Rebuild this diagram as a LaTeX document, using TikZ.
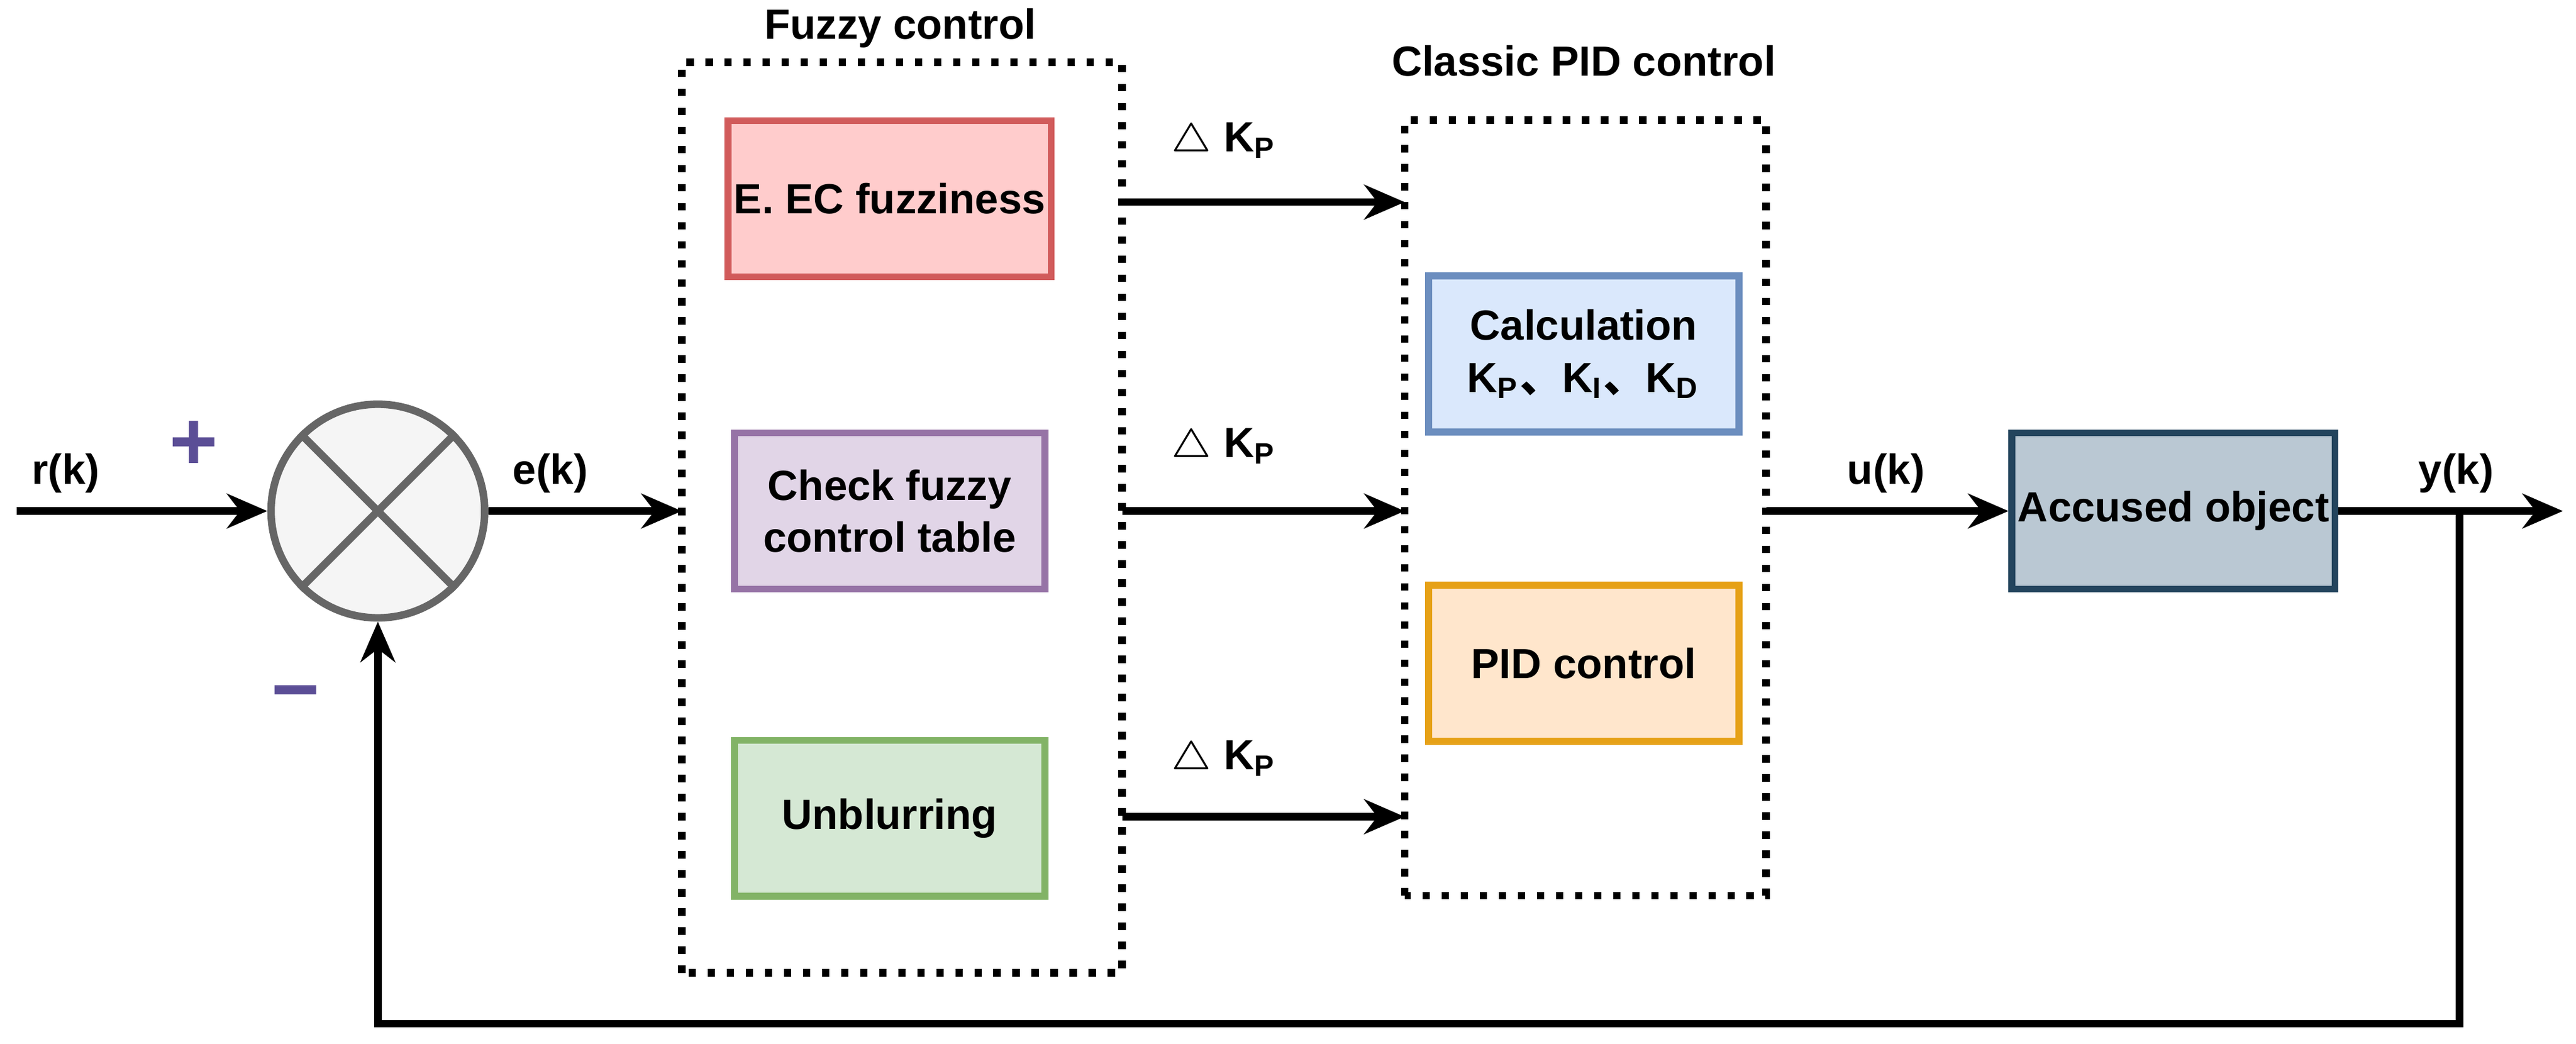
\documentclass[tikz,border=0pt]{standalone}
\usepackage{fontspec}
\setmainfont{Liberation Sans}
\newfontfamily\cjk{Noto Sans CJK SC}
\usetikzlibrary{arrows.meta}
\definecolor{redfill}{HTML}{FFCCCC}
\definecolor{reddraw}{HTML}{D15B5B}
\definecolor{purfill}{HTML}{E1D5E7}
\definecolor{purdraw}{HTML}{9673A6}
\definecolor{grnfill}{HTML}{D5E8D4}
\definecolor{grndraw}{HTML}{82B366}
\definecolor{blufill}{HTML}{DAE8FC}
\definecolor{bludraw}{HTML}{6C8EBF}
\definecolor{orgfill}{HTML}{FFE6CC}
\definecolor{orgdraw}{HTML}{E6A117}
\definecolor{objfill}{HTML}{BAC8D3}
\definecolor{objdraw}{HTML}{23445D}
\definecolor{signcol}{HTML}{5B4E96}
\newcommand{\dunhao}{{\cjk 、}}
\tikzset{
  lbl/.style={font=\fontsize{7.3}{9}\selectfont\bfseries, align=center},
  blk/.style={lbl, draw, line width=1.2pt, inner sep=1pt, minimum width=1.89cm, minimum height=0.95cm},
  grp/.style={draw, line width=1.3pt, dotted},
  sig/.style={line width=1.3pt, -{Stealth[length=7pt,width=6pt]}}
}
\begin{document}
\begin{tikzpicture}
    \useasboundingbox (0,0) rectangle (15.68,6.35);

    \draw[grp] (4.15, 0.43) rectangle (6.83, 5.97);
    \draw[grp] (8.55, 0.90) rectangle (10.75, 5.62);
    \node[lbl] (tfuz) at (5.48, 6.18) {Fuzzy control};
    \node[lbl] (tpid) at (9.64, 5.98) {Classic PID control};

    \node[blk, fill=redfill, draw=reddraw] (fuz) at (5.415, 5.14) {E. EC fuzziness};
    \node[blk, fill=purfill, draw=purdraw] (tab) at (5.415, 3.24) {Check fuzzy\\control table};
    \node[blk, fill=grnfill, draw=grndraw] (unb) at (5.415, 1.37) {Unblurring};
    \node[blk, fill=blufill, draw=bludraw] (calc) at (9.64, 4.195) {Calculation\\K$_{\mathbf{P}}$\dunhao K$_{\mathbf{I}}$\dunhao K$_{\mathbf{D}}$};
    \node[blk, fill=orgfill, draw=orgdraw] (pid) at (9.64, 2.315) {PID control};
    \node[blk, fill=objfill, draw=objdraw] (obj) at (13.23, 3.24) {Accused object};

    \node[circle, draw=black!60, fill=black!4, line width=1.3pt, minimum size=1.3cm] (sum) at (2.30, 3.24) {};
    \draw[black!60, line width=1.3pt] (sum.north west) -- (sum.south east);
    \draw[black!60, line width=1.3pt] (sum.south west) -- (sum.north east);

    \coordinate (in) at (0.10, 3.24);
    \coordinate (out) at (15.60, 3.24);
    \coordinate (tap) at (14.97, 3.24);
    \coordinate (fb) at (14.97, 0.12);

    \draw[sig] (in) -- (sum);
    \draw[sig] (sum) -- (4.15, 3.24);
    \draw[sig] (6.83, 5.12) -- (8.55, 5.12);
    \draw[sig] (6.83, 3.24) -- (8.55, 3.24);
    \draw[sig] (6.83, 1.38) -- (8.55, 1.38);
    \draw[sig] (10.75, 3.24) -- (obj);
    \draw[sig] (obj) -- (out);
    \draw[sig] (tap) -- (fb) -| (sum.south);

    \node[lbl] (r) at (0.40, 3.47) {r(k)};
    \node[lbl] (e) at (3.35, 3.47) {e(k)};
    \node[lbl] (u) at (11.48, 3.47) {u(k)};
    \node[lbl] (y) at (14.95, 3.47) {y(k)};
    \node[lbl, text=signcol, font=\Large\bfseries] (plus) at (1.18, 3.64) {+};
    \node[lbl, text=signcol, font=\Large\bfseries] (minus) at (1.80, 2.08) {−};
    \foreach \n/\y in {k1/5.49, k2/3.63, k3/1.73}
        \node[lbl] (\n) at (7.45, \y) {$\bigtriangleup$ K$_{\mathbf{P}}$};

\end{tikzpicture}
\end{document}
